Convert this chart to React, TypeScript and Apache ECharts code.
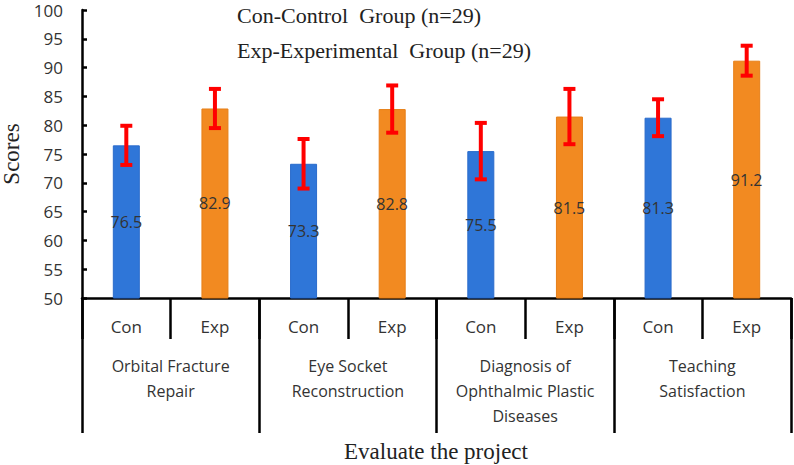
import React, { useEffect, useRef } from "react";
import * as echarts from "echarts";

const groups = [
  "Orbital Fracture\nRepair",
  "Eye Socket\nReconstruction",
  "Diagnosis of\nOphthalmic Plastic\nDiseases",
  "Teaching\nSatisfaction",
];
const conditions = ["Con", "Exp"];
const conMeans = [76.5, 73.3, 75.5, 81.3];
const expMeans = [82.9, 82.8, 81.5, 91.2];
const conSD = [3.4, 4.3, 4.9, 3.2];
const expSD = [3.4, 4.1, 4.8, 2.6];
const yTicks = { min: 50, max: 100, interval: 5 };
const legendLines = ["Con-Control  Group (n=29)", "Exp-Experimental  Group (n=29)"];
const xTitle = "Evaluate the project";
const yTitle = "Scores";

const BLUE = "#2F76D8";
const ORANGE = "#F28A21";

export default function App() {
  const ref = useRef<HTMLDivElement>(null);
  useEffect(() => {
    document.body.style.margin = "0";
    if (!ref.current) return;
    const chart = echarts.init(ref.current, undefined, { renderer: "svg" });

    const cats: string[] = [];
    const barData: any[] = [];
    const errData: number[][] = [];
    groups.forEach((g, gi) => {
      conditions.forEach((c, ci) => {
        const idx = cats.length;
        cats.push(c + "|" + gi);
        const mean = ci === 0 ? conMeans[gi] : expMeans[gi];
        const sd = ci === 0 ? conSD[gi] : expSD[gi];
        barData.push({
          value: mean,
          itemStyle: {
            color: ci === 0 ? BLUE : ORANGE,
            borderColor: ci === 0 ? "#2A6BCB" : "#E67F18",
            borderWidth: 1,
          },
        });
        errData.push([idx, mean - sd, mean + sd]);
      });
    });

    const axisBlack = { color: "#000", width: 2.5 };

    chart.setOption({
      animation: false,
      grid: {
        left: 82,
        right: 3,
        top: 10,
        bottom: 167,
        containLabel: false,
        outerBoundsMode: "none",
      },
      xAxis: [
        {
          type: "category",
          data: cats,
          position: "bottom",
          axisLine: { show: true, lineStyle: axisBlack },
          axisTick: { show: true, interval: 0, length: 41, lineStyle: axisBlack },
          axisLabel: {
            interval: 0,
            margin: 20,
            fontSize: 17,
            fontFamily: "Open Sans",
            color: "#333",
            formatter: (v: string) => v.split("|")[0],
          },
          splitLine: { show: false },
        },
        {
          type: "category",
          data: groups,
          position: "bottom",
          axisLine: { show: false },
          axisTick: { show: true, interval: 0, length: 135, lineStyle: axisBlack },
          axisLabel: {
            interval: 0,
            margin: 55,
            fontSize: 16,
            lineHeight: 25,
            fontFamily: "Open Sans",
            color: "#333",
          },
          splitLine: { show: false },
        },
      ],
      yAxis: {
        type: "value",
        min: yTicks.min,
        max: yTicks.max,
        interval: yTicks.interval,
        name: yTitle,
        nameLocation: "middle",
        nameGap: 56,
        nameTextStyle: { fontFamily: "Liberation Serif", fontSize: 23, color: "#222" },
        axisLine: { show: true, lineStyle: axisBlack },
        axisTick: { show: true, inside: true, length: 5, lineStyle: axisBlack },
        axisLabel: { margin: 19, fontSize: 17, fontFamily: "Open Sans", color: "#333" },
        splitLine: { show: false },
      },
      series: [
        {
          type: "bar",
          xAxisIndex: 0,
          data: barData,
          barWidth: 27,
          label: {
            show: true,
            position: "inside",
            fontSize: 16,
            fontFamily: "Open Sans",
            color: "#333",
            formatter: (p: any) => p.value.toFixed(1),
          },
          z: 2,
        },
        {
          type: "custom",
          xAxisIndex: 0,
          data: errData,
          z: 3,
          renderItem: (params: any, api: any) => {
            const x = api.value(0);
            const lo = api.coord([x, api.value(1)]);
            const hi = api.coord([x, api.value(2)]);
            const cap = 6;
            const style = { stroke: "#FF0000", lineWidth: 4 };
            return {
              type: "group",
              children: [
                { type: "line", shape: { x1: hi[0], y1: hi[1], x2: lo[0], y2: lo[1] }, style },
                { type: "line", shape: { x1: hi[0] - cap, y1: hi[1], x2: hi[0] + cap, y2: hi[1] }, style },
                { type: "line", shape: { x1: lo[0] - cap, y1: lo[1], x2: lo[0] + cap, y2: lo[1] }, style },
              ],
            };
          },
        },
      ],
      graphic: [
        {
          type: "text",
          x: 237,
          y: 15,
          style: { text: legendLines[0], font: "22px 'Liberation Serif'", fill: "#222", verticalAlign: "middle" },
        },
        {
          type: "text",
          x: 237,
          y: 50,
          style: { text: legendLines[1], font: "22px 'Liberation Serif'", fill: "#222", verticalAlign: "middle" },
        },
        {
          type: "text",
          x: 436,
          y: 451,
          style: {
            text: xTitle,
            font: "23px 'Liberation Serif'",
            fill: "#222",
            align: "center",
            verticalAlign: "middle",
          },
        },
      ],
    });
    return () => chart.dispose();
  }, []);
  return <div ref={ref} style={{ width: 794, height: 465 }} />;
}
